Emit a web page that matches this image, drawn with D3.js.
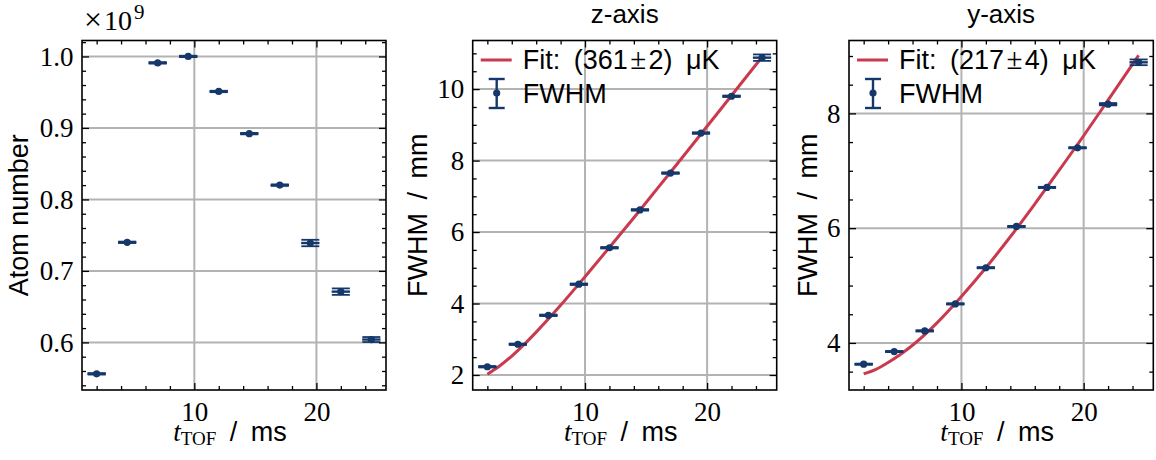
<!DOCTYPE html>
<html>
<head>
<meta charset="utf-8">
<script src="https://cdn.jsdelivr.net/npm/d3@7"></script>
<style>
  body { margin: 0; background: #fff; }
  svg { display: block; }
</style>
</head>
<body>
<div id="chart"></div>
<script>
// ---- datos ----
const tof = [2, 4.5, 7, 9.5, 12, 14.5, 17, 19.5, 22, 24.5];   // ms
const tofErr = [0.75, 0.75, 0.75, 0.75, 0.75, 0.75, 0.75, 0.75, 0.75, 0.75];

// número de átomos (x 1e9)
const atomNumber = [0.556, 0.740, 0.991, 1.000, 0.951, 0.892, 0.820, 0.739, 0.671, 0.604];
const atomErr = [0.001, 0.001, 0.001, 0.001, 0.001, 0.001, 0.001, 0.0045, 0.0045, 0.0035];

// FWHM eje z / eje y (mm)
const fwhmZ = [2.23, 2.86, 3.67, 4.54, 5.56, 6.62, 7.65, 8.77, 9.80, 10.88];
const fwhmZErr = [0.02, 0.02, 0.02, 0.02, 0.02, 0.02, 0.02, 0.02, 0.02, 0.09];
const fwhmY = [3.63, 3.85, 4.21, 4.68, 5.31, 6.03, 6.71, 7.40, 8.16, 8.89];
const fwhmYErr = [0.01, 0.01, 0.01, 0.01, 0.01, 0.01, 0.01, 0.01, 0.02, 0.05];

// curvas de ajuste
const fitT = [2, 3, 4, 5, 6, 8, 10, 12, 14, 16, 18, 20, 22, 24.5];
const fitZ = [2.02, 2.25, 2.53, 2.85, 3.20, 3.95, 4.75, 5.57, 6.40, 7.25, 8.10, 8.96, 9.82, 10.90];
const fitY = [3.46, 3.54, 3.66, 3.80, 3.96, 4.35, 4.81, 5.31, 5.85, 6.42, 7.01, 7.61, 8.23, 9.01];

// ticks
const xMajor = [10, 20];
const xMinor = [2, 4, 6, 8, 12, 14, 16, 18, 22, 24];
const atomMajor = [0.6, 0.7, 0.8, 0.9, 1.0];
const zMajor = [2, 4, 6, 8, 10];
const yMajor = [4, 6, 8];

const W = 1156, H = 460;
const blue = "#15386b";
const red = "#c93a4e";
const sans = "'Liberation Sans', Arial, sans-serif";
const serif = "'Liberation Serif', serif";

const svg = d3.select("#chart").append("svg")
  .attr("width", W).attr("height", H);

const plotTop = 40.5, plotBottom = 390;

function minorRange(a, b, step, major) {
  const out = [];
  for (let i = Math.ceil(a / step - 1e-9); i * step <= b + 1e-9; i++) {
    const v = +(i * step).toFixed(4);
    if (!major.some(m => Math.abs(m - v) < 1e-6)) out.push(v);
  }
  return out;
}

function drawPanel(p) {
  const x = d3.scaleLinear().domain([0.8, 25.7]).range([p.left, p.right]);
  const y = d3.scaleLinear().domain(p.yDomain).range([plotBottom, plotTop]);
  const g = svg.append("g");
  const w = p.right - p.left, h = plotBottom - plotTop;

  // rejilla
  g.append("g").selectAll("line").data(xMajor).join("line")
    .attr("x1", d => x(d)).attr("x2", d => x(d))
    .attr("y1", plotTop).attr("y2", plotBottom)
    .attr("stroke", "#b3b3b3").attr("stroke-width", 2);
  g.append("g").selectAll("line").data(p.yMajor).join("line")
    .attr("x1", p.left).attr("x2", p.right)
    .attr("y1", d => y(d)).attr("y2", d => y(d))
    .attr("stroke", "#b3b3b3").attr("stroke-width", 2);

  // ajuste
  if (p.fit) {
    const line = d3.line().x((d, i) => x(fitT[i])).y(d => y(d)).curve(d3.curveMonotoneX);
    g.append("path").datum(p.fit)
      .attr("d", line).attr("fill", "none")
      .attr("stroke", red).attr("stroke-width", 3);
  }

  // barras de error + puntos
  const pts = g.append("g").selectAll("g")
    .data(tof.map((t, i) => ({ t, v: p.values[i], e: p.err[i], xe: tofErr[i] })))
    .join("g").attr("stroke", blue).attr("stroke-width", 2.4);
  pts.append("line")
    .attr("x1", d => x(d.t - d.xe)).attr("x2", d => x(d.t + d.xe))
    .attr("y1", d => y(d.v)).attr("y2", d => y(d.v));
  pts.append("line")
    .attr("x1", d => x(d.t)).attr("x2", d => x(d.t))
    .attr("y1", d => y(d.v - d.e)).attr("y2", d => y(d.v + d.e));
  [-1, 1].forEach(s => {
    pts.append("line").attr("stroke-width", 1.8)
      .attr("x1", d => x(d.t) - 9).attr("x2", d => x(d.t) + 9)
      .attr("y1", d => y(d.v + s * d.e)).attr("y2", d => y(d.v + s * d.e));
  });
  pts.append("circle")
    .attr("cx", d => x(d.t)).attr("cy", d => y(d.v)).attr("r", 3.6)
    .attr("fill", blue).attr("stroke", "none");

  // ejes con ticks hacia dentro
  const yMinor = minorRange(p.yDomain[0], p.yDomain[1], p.yMinorStep, p.yMajor);
  const axes = [
    ["axisBottom", x, xMajor, `translate(0,${plotBottom})`, -7, true, 11.5],
    ["axisBottom", x, xMinor, `translate(0,${plotBottom})`, -4, false, 0],
    ["axisTop", x, xMajor, `translate(0,${plotTop})`, -7, false, 0],
    ["axisTop", x, xMinor, `translate(0,${plotTop})`, -4, false, 0],
    ["axisLeft", y, p.yMajor, `translate(${p.left},0)`, -7, true, 8.5],
    ["axisLeft", y, yMinor, `translate(${p.left},0)`, -4, false, 0],
    ["axisRight", y, p.yMajor, `translate(${p.right},0)`, -7, false, 0],
    ["axisRight", y, yMinor, `translate(${p.right},0)`, -4, false, 0]
  ];
  axes.forEach(([fn, sc, vals, tr, size, labels, pad]) => {
    const ax = d3[fn](sc).tickValues(vals).tickSizeInner(size).tickSizeOuter(0)
      .tickPadding(pad)
      .tickFormat(labels ? (fn === "axisLeft" ? p.yFormat : d3.format("d")) : "");
    const a = g.append("g").attr("transform", tr).call(ax);
    a.select(".domain").remove();
    a.selectAll(".tick line").attr("stroke", "#000").attr("stroke-width", 1.3);
    a.selectAll(".tick text").attr("font-size", 27).attr("fill", "#000")
      .attr("font-family", serif);
  });

  // marco
  g.append("rect").attr("x", p.left).attr("y", plotTop).attr("width", w).attr("height", h)
    .attr("fill", "none").attr("stroke", "#000").attr("stroke-width", 1.6);

  // etiqueta x
  const xl = g.append("text")
    .attr("x", (p.left + p.right) / 2 - 4).attr("y", 441)
    .attr("text-anchor", "middle").attr("font-size", 27);
  xl.append("tspan").attr("font-family", serif).attr("font-style", "italic").text("t");
  xl.append("tspan").attr("font-family", serif).attr("font-size", 19).attr("dy", 4).text("TOF");
  xl.append("tspan").attr("font-family", sans).attr("font-size", 27).attr("dy", -4).text("\u2002/\u2002ms");

  // etiqueta y
  g.append("text")
    .attr("transform", `translate(${p.yLabelX},${(plotTop + plotBottom) / 2}) rotate(-90)`)
    .attr("text-anchor", "middle").attr("font-family", sans).attr("font-size", 27)
    .text(p.yLabel);

  // título
  if (p.title) {
    g.append("text").attr("x", (p.left + p.right) / 2).attr("y", 23)
      .attr("text-anchor", "middle").attr("font-family", sans).attr("font-size", 26)
      .text(p.title);
  }

  // leyenda
  if (p.legend) {
    const lx = p.left + 8;
    g.append("line").attr("x1", lx).attr("x2", lx + 31).attr("y1", 60).attr("y2", 60)
      .attr("stroke", red).attr("stroke-width", 3);
    const lt = g.append("text").attr("x", lx + 42).attr("y", 69)
      .attr("font-family", sans).attr("font-size", 27);
    lt.append("tspan").text("Fit:\u2002(" + p.legend[0]);
    lt.append("tspan").attr("font-family", serif).attr("font-size", 29).text("\u200a\u00b1\u200a");
    lt.append("tspan").text(p.legend[1] + ")\u2002\u03bcK");
    const leg = g.append("g").attr("stroke", blue).attr("stroke-width", 2.4);
    const cx = lx + 16;
    leg.append("line").attr("x1", cx).attr("x2", cx).attr("y1", 79).attr("y2", 108);
    leg.append("line").attr("x1", cx - 8).attr("x2", cx + 8).attr("y1", 79).attr("y2", 79);
    leg.append("line").attr("x1", cx - 8).attr("x2", cx + 8).attr("y1", 108).attr("y2", 108);
    leg.append("circle").attr("cx", cx).attr("cy", 93).attr("r", 3.6).attr("fill", blue).attr("stroke", "none");
    g.append("text").attr("x", lx + 42).attr("y", 103)
      .attr("font-family", sans).attr("font-size", 27).text("FWHM");
  }
}

drawPanel({
  left: 82, right: 386, yDomain: [0.5334, 1.0223], yMajor: atomMajor, yMinorStep: 0.02,
  yFormat: d3.format(".1f"), values: atomNumber, err: atomErr,
  yLabel: "Atom number", yLabelX: 28
});
drawPanel({
  left: 472.7, right: 776.7, yDomain: [1.58, 11.36], yMajor: zMajor, yMinorStep: 0.5,
  yFormat: d3.format("d"), values: fwhmZ, err: fwhmZErr, fit: fitZ,
  yLabel: "FWHM\u2002/\u2002mm", yLabelX: 427, title: "z-axis", legend: ["361", "2"]
});
drawPanel({
  left: 849, right: 1153.3, yDomain: [3.18, 9.27], yMajor: yMajor, yMinorStep: 0.5,
  yFormat: d3.format("d"), values: fwhmY, err: fwhmYErr, fit: fitY,
  yLabel: "FWHM\u2002/\u2002mm", yLabelX: 816.5, title: "y-axis", legend: ["217", "4"]
});

// multiplicador del eje y
const mult = svg.append("text").attr("x", 84).attr("y", 30)
  .attr("font-family", serif).attr("font-size", 28);
mult.append("tspan").attr("font-size", 32).text("\u00d7");
mult.append("tspan").attr("dx", 2).text("10");
mult.append("tspan").attr("font-size", 21).attr("dx", 2).attr("dy", -11).text("9");
</script>
</body>
</html>
